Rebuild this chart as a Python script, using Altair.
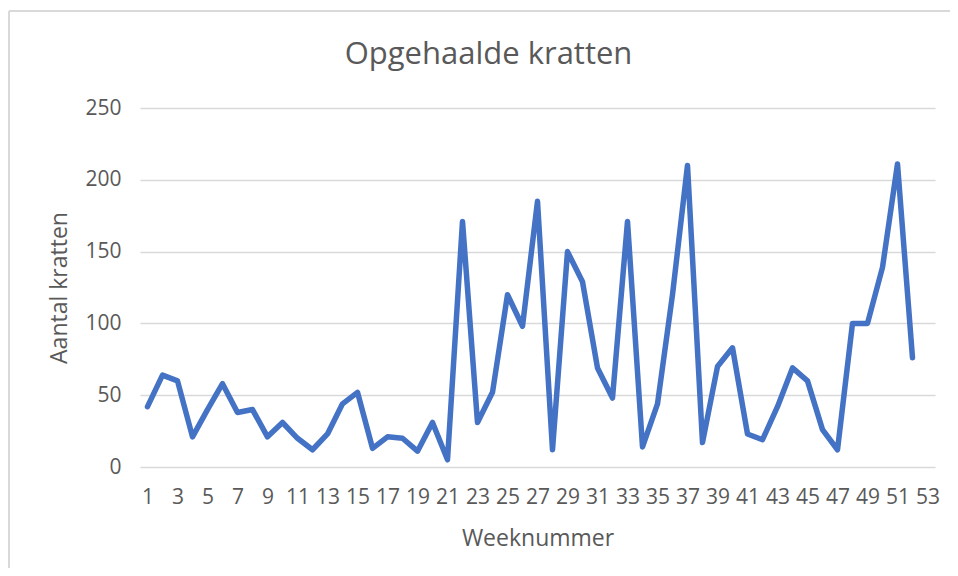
import altair as alt
import pandas as pd

weeks = list(range(1, 53))
kratten = [42, 64, 60, 21, 40, 58, 38, 40, 21, 31, 20, 12, 23, 44, 52, 13, 21, 20, 11, 31,
           5, 171, 31, 52, 120, 98, 185, 12, 150, 129, 69, 48, 171, 14, 44, 120, 210, 17, 70, 83,
           23, 19, 42, 69, 60, 26, 12, 100, 100, 139, 211, 76]
x_ticks = list(range(1, 54, 2))
y_ticks = [0, 50, 100, 150, 200, 250]

df = pd.DataFrame({"week": weeks, "kratten": kratten})

FONT = "Open Sans"
GREY = "#595959"
GRID = "#d9d9d9"
W, H = 795, 359

line = alt.Chart(df).mark_line(
    color="#4472C4", strokeWidth=5.5, strokeJoin="round", strokeCap="round"
).encode(
    x=alt.X("week:Q",
            scale=alt.Scale(domain=[0.5, 53.5], nice=False, zero=False),
            axis=alt.Axis(values=x_ticks, grid=False, domain=False, ticks=False,
                          labelFont=FONT, labelFontSize=21, labelColor=GREY,
                          labelPadding=19, labelOverlap=False, labelFlush=False,
                          title="Weeknummer", titleFont=FONT, titleFontSize=23,
                          titleFontWeight="normal", titleColor=GREY,
                          titleX=W / 2, titleY=71, titleAnchor="middle",
                          titleBaseline="middle", titleAlign="center")),
    y=alt.Y("kratten:Q",
            scale=alt.Scale(domain=[0, 250], nice=False),
            axis=alt.Axis(values=y_ticks, grid=True, gridColor=GRID, gridWidth=1.3,
                          domain=False, ticks=False,
                          labelFont=FONT, labelFontSize=21, labelColor=GREY,
                          labelPadding=19,
                          title="Aantal kratten", titleFont=FONT, titleFontSize=23,
                          titleFontWeight="normal", titleColor=GREY,
                          titleX=-81, titleY=H / 2, titleAngle=-90,
                          titleAlign="center", titleBaseline="middle")),
)

border_v = alt.Chart(df).mark_rule(color=GRID, strokeWidth=2).encode(
    x=alt.value(-131), y=alt.value(-97), y2=alt.value(H + 110)
)
border_h = alt.Chart(df).mark_rule(color=GRID, strokeWidth=2).encode(
    x=alt.value(-131), x2=alt.value(W + 15), y=alt.value(-97)
)

chart = alt.layer(border_v, border_h, line).properties(
    width=W, height=H,
    autosize=alt.AutoSizeParams(type="none"),
    padding={"left": 132, "top": 100, "right": 15, "bottom": 101},
    title=alt.TitleParams("Opgehaalde kratten", font=FONT, fontSize=31,
                          fontWeight="normal", color=GREY, anchor="middle",
                          frame="group", baseline="alphabetic", offset=0,
                          dx=-49, dy=85),
).configure_view(stroke=None)

chart.save("out.html", embed_options={"renderer": "svg", "actions": False})
